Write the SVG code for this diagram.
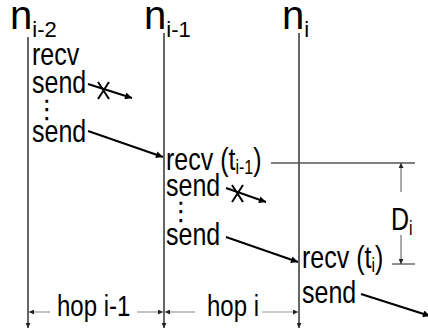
<svg xmlns="http://www.w3.org/2000/svg" width="428" height="335" viewBox="0 0 428 335">
  <style>
    text { font-family: "Liberation Sans", Arial, sans-serif; fill: #000; }
    .title { font-size: 40px; }
    .tsub { font-size: 22px; }
    .lbl { font-size: 25px; }
    .dots { font-size: 26px; font-family: "DejaVu Sans", sans-serif; }
    .hop { font-size: 24px; }
    .sub { font-size: 16px; }
    .life { stroke: #333; stroke-width: 1.5; fill: none; }
    .msg { stroke: #000; stroke-width: 2; fill: none; }
    .dim { stroke: #999; stroke-width: 1.2; fill: none; }
    .dimv { stroke: #555; stroke-width: 1; fill: none; }
    .ref { stroke: #555; stroke-width: 1.3; fill: none; }
  </style>
  <defs>
    <marker id="ah" viewBox="0 0 10 10" refX="10" refY="5" markerWidth="9" markerHeight="7" markerUnits="userSpaceOnUse" orient="auto">
      <path d="M0,0 L10,5 L0,10 z" fill="#000"/>
    </marker>
    <marker id="ahs" viewBox="0 0 10 10" refX="10" refY="5" markerWidth="6" markerHeight="5" markerUnits="userSpaceOnUse" orient="auto">
      <path d="M0,0 L10,5 L0,10 z" fill="#222"/>
    </marker>
  </defs>

  <!-- nodes: the three lifelines with their headings -->
  <g id="node-ni-2">
    <text class="title" x="10" y="29">n<tspan class="tsub" dy="8">i-2</tspan></text>
    <line class="life" x1="28" y1="37" x2="28" y2="328" marker-end="url(#ahs)"/>
  </g>
  <g id="node-ni-1">
    <text class="title" x="144" y="29">n<tspan class="tsub" dy="8">i-1</tspan></text>
    <line class="life" x1="164" y1="33" x2="164" y2="328" marker-end="url(#ahs)"/>
  </g>
  <g id="node-ni">
    <text class="title" x="282" y="29">n<tspan class="tsub" dy="8">i</tspan></text>
    <line class="life" x1="299" y1="33" x2="299" y2="328" marker-end="url(#ahs)"/>
  </g>

  <!-- event labels (tall, slightly condensed lettering) -->
  <g id="events">
    <text class="lbl" transform="translate(32,65) scale(1,1.22)">recv</text>
    <text class="lbl" transform="translate(32,93) scale(1,1.22)">send</text>
    <text class="dots" x="34" y="118">⋮</text>
    <text class="lbl" transform="translate(32,142) scale(1,1.22)">send</text>

    <text class="lbl" transform="translate(166,170) scale(1,1.22)">recv (t<tspan class="sub" dy="3">i-1</tspan><tspan dy="-3">)</tspan></text>
    <text class="lbl" transform="translate(166,196) scale(1,1.22)">send</text>
    <text class="dots" x="168" y="220">⋮</text>
    <text class="lbl" transform="translate(166,245) scale(1,1.22)">send</text>

    <text class="lbl" transform="translate(302,268) scale(1,1.22)">recv (t<tspan class="sub" dy="3">i</tspan><tspan dy="-3">)</tspan></text>
    <text class="lbl" transform="translate(302,303) scale(1,1.22)">send</text>
  </g>

  <!-- connectors: messages, lost messages, timing and hop dimensions -->
  <g id="connectors">
    <line class="msg" x1="88" y1="84" x2="132" y2="98" marker-end="url(#ah)"/>
    <path class="msg" d="M98,82 L109,99 M109,82 L98,99"/>
    <line class="msg" x1="88" y1="131" x2="163" y2="157" marker-end="url(#ah)"/>

    <line class="msg" x1="226" y1="188" x2="266" y2="202" marker-end="url(#ah)"/>
    <path class="msg" d="M232,185 L243,202 M243,185 L232,202"/>
    <line class="msg" x1="226" y1="237" x2="298" y2="262" marker-end="url(#ah)"/>

    <line class="msg" x1="361" y1="294" x2="430" y2="316" marker-end="url(#ah)"/>

    <line class="ref" x1="271" y1="163" x2="415" y2="163"/>
    <line class="ref" x1="392" y1="264" x2="415" y2="264"/>
    <line class="dimv" x1="401" y1="192" x2="401" y2="163" marker-end="url(#ahs)"/>
    <line class="dimv" x1="401" y1="235" x2="401" y2="264" marker-end="url(#ahs)"/>
    <text class="lbl" transform="translate(391,230) scale(1,1.22)">D<tspan class="sub" dy="4">i</tspan></text>

    <line class="dim" x1="50" y1="312" x2="29" y2="312" marker-end="url(#ahs)"/>
    <text class="hop" transform="translate(57,316) scale(1,1.22)">hop i-1</text>
    <line class="dim" x1="137" y1="312" x2="163" y2="312" marker-end="url(#ahs)"/>
    <line class="dim" x1="195" y1="312" x2="165" y2="312" marker-end="url(#ahs)"/>
    <text class="hop" transform="translate(207,316) scale(1,1.22)">hop i</text>
    <line class="dim" x1="262" y1="312" x2="298" y2="312" marker-end="url(#ahs)"/>
  </g>
</svg>
